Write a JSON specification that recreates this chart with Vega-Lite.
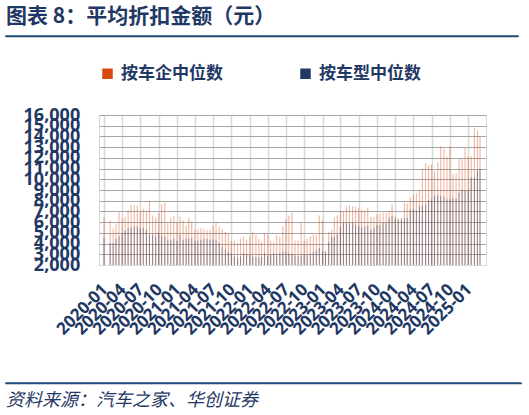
{
  "$schema": "https://vega.github.io/schema/vega-lite/v6.json",
  "background": "white",
  "padding": {"left": 5, "top": 5, "right": 5, "bottom": 0},
  "config": {"font": "Noto Sans CJK SC"},
  "spacing": 26,
  "resolve": {"scale": {"color": "independent"}, "legend": {"color": "independent"}},
  "datasets": {
    "discount": [
      {"d": "2020-01-01", "按车企中位数": 6470, "按车型中位数": 4520},
      {"d": "2020-02-01", "按车企中位数": 6180, "按车型中位数": 4050},
      {"d": "2020-02-16", "按车企中位数": 5400, "按车型中位数": 4050},
      {"d": "2020-03-01", "按车企中位数": 5840, "按车型中位数": 4420},
      {"d": "2020-03-16", "按车企中位数": 6940, "按车型中位数": 4670},
      {"d": "2020-04-01", "按车企中位数": 6340, "按车型中位数": 5000},
      {"d": "2020-04-16", "按车企中位数": 6500, "按车型中位数": 5240},
      {"d": "2020-05-01", "按车企中位数": 7130, "按车型中位数": 5460},
      {"d": "2020-05-16", "按车企中位数": 7600, "按车型中位数": 5520},
      {"d": "2020-06-01", "按车企中位数": 7600, "按车型中位数": 5620},
      {"d": "2020-06-16", "按车企中位数": 7570, "按车型中位数": 5620},
      {"d": "2020-07-01", "按车企中位数": 6940, "按车型中位数": 5460},
      {"d": "2020-07-16", "按车企中位数": 7250, "按车型中位数": 5460},
      {"d": "2020-08-01", "按车企中位数": 7030, "按车型中位数": 5300},
      {"d": "2020-08-16", "按车企中位数": 7980, "按车型中位数": 4830},
      {"d": "2020-09-01", "按车企中位数": 6620, "按车型中位数": 4830},
      {"d": "2020-09-16", "按车企中位数": 6400, "按车型中位数": 4670},
      {"d": "2020-10-01", "按车企中位数": 6870, "按车型中位数": 5000},
      {"d": "2020-10-16", "按车企中位数": 7660, "按车型中位数": 4740},
      {"d": "2020-11-01", "按车企中位数": 7820, "按车型中位数": 4670},
      {"d": "2020-11-16", "按车企中位数": 5930, "按车型中位数": 4360},
      {"d": "2020-12-01", "按车企中位数": 6400, "按车型中位数": 4360},
      {"d": "2020-12-16", "按车企中位数": 6560, "按车型中位数": 4420},
      {"d": "2021-01-01", "按车企中位数": 5930, "按车型中位数": 4260},
      {"d": "2021-01-16", "按车企中位数": 6500, "按车型中位数": 4830},
      {"d": "2021-02-01", "按车企中位数": 6180, "按车型中位数": 4360},
      {"d": "2021-02-16", "按车企中位数": 5680, "按车型中位数": 4450},
      {"d": "2021-03-01", "按车企中位数": 6400, "按车型中位数": 4500},
      {"d": "2021-03-16", "按车企中位数": 6090, "按车型中位数": 4500},
      {"d": "2021-04-01", "按车企中位数": 5330, "按车型中位数": 4260},
      {"d": "2021-04-16", "按车企中位数": 5300, "按车型中位数": 4260},
      {"d": "2021-05-01", "按车企中位数": 5460, "按车型中位数": 4360},
      {"d": "2021-05-16", "按车企中位数": 5365, "按车型中位数": 4420},
      {"d": "2021-06-01", "按车企中位数": 5210, "按车型中位数": 4420},
      {"d": "2021-06-16", "按车企中位数": 5300, "按车型中位数": 4360},
      {"d": "2021-07-01", "按车企中位数": 5620, "按车型中位数": 4360},
      {"d": "2021-07-16", "按车企中位数": 5990, "按车型中位数": 4300},
      {"d": "2021-08-01", "按车企中位数": 5620, "按车型中位数": 4045},
      {"d": "2021-08-16", "按车企中位数": 5365, "按车型中位数": 3670},
      {"d": "2021-09-01", "按车企中位数": 5080, "按车型中位数": 3415},
      {"d": "2021-09-16", "按车企中位数": 4925, "按车型中位数": 3260},
      {"d": "2021-10-01", "按车企中位数": 4260, "按车型中位数": 3100},
      {"d": "2021-10-16", "按车企中位数": 4260, "按车型中位数": 2790},
      {"d": "2021-11-01", "按车企中位数": 4045, "按车型中位数": 2690},
      {"d": "2021-11-16", "按车企中位数": 4450, "按车型中位数": 2790},
      {"d": "2021-12-01", "按车企中位数": 4670, "按车型中位数": 3100},
      {"d": "2021-12-16", "按车企中位数": 4360, "按车型中位数": 3000},
      {"d": "2022-01-01", "按车企中位数": 4670, "按车型中位数": 2940},
      {"d": "2022-01-16", "按车企中位数": 5080, "按车型中位数": 2790},
      {"d": "2022-02-01", "按车企中位数": 4830, "按车型中位数": 2690},
      {"d": "2022-02-16", "按车企中位数": 4450, "按车型中位数": 2690},
      {"d": "2022-03-01", "按车企中位数": 4140, "按车型中位数": 2790},
      {"d": "2022-03-16", "按车企中位数": 4990, "按车型中位数": 3100},
      {"d": "2022-04-01", "按车企中位数": 4830, "按车型中位数": 2880},
      {"d": "2022-04-16", "按车企中位数": 4260, "按车型中位数": 3000},
      {"d": "2022-05-01", "按车企中位数": 4140, "按车型中位数": 3100},
      {"d": "2022-05-16", "按车企中位数": 4770, "按车型中位数": 2940},
      {"d": "2022-06-01", "按车企中位数": 4670, "按车型中位数": 3100},
      {"d": "2022-06-16", "按车企中位数": 5620, "按车型中位数": 3260},
      {"d": "2022-07-01", "按车企中位数": 6250, "按车型中位数": 3260},
      {"d": "2022-07-16", "按车企中位数": 6620, "按车型中位数": 3100},
      {"d": "2022-08-01", "按车企中位数": 6870, "按车型中位数": 3000},
      {"d": "2022-08-16", "按车企中位数": 4280, "按车型中位数": 2880},
      {"d": "2022-09-01", "按车企中位数": 4265, "按车型中位数": 2790},
      {"d": "2022-09-16", "按车企中位数": 5930, "按车型中位数": 2880},
      {"d": "2022-10-01", "按车企中位数": 4250, "按车型中位数": 3000},
      {"d": "2022-10-16", "按车企中位数": 4420, "按车型中位数": 3000},
      {"d": "2022-11-01", "按车企中位数": 4680, "按车型中位数": 3100},
      {"d": "2022-11-16", "按车企中位数": 4830, "按车型中位数": 3260},
      {"d": "2022-12-01", "按车企中位数": 4790, "按车型中位数": 3400},
      {"d": "2022-12-16", "按车企中位数": 6620, "按车型中位数": 3570},
      {"d": "2023-01-01", "按车企中位数": 6200, "按车型中位数": 3320},
      {"d": "2023-01-16", "按车企中位数": 3300, "按车型中位数": 3200},
      {"d": "2023-02-01", "按车企中位数": 5100, "按车型中位数": 4140},
      {"d": "2023-02-16", "按车企中位数": 5300, "按车型中位数": 4670},
      {"d": "2023-03-01", "按车企中位数": 6400, "按车型中位数": 4580},
      {"d": "2023-03-16", "按车企中位数": 6650, "按车型中位数": 4830},
      {"d": "2023-04-01", "按车企中位数": 6970, "按车型中位数": 5550},
      {"d": "2023-04-16", "按车企中位数": 7050, "按车型中位数": 5930},
      {"d": "2023-05-01", "按车企中位数": 7450, "按车型中位数": 5930},
      {"d": "2023-05-16", "按车企中位数": 7570, "按车型中位数": 5930},
      {"d": "2023-06-01", "按车企中位数": 7500, "按车型中位数": 5930},
      {"d": "2023-06-16", "按车企中位数": 7440, "按车型中位数": 5720},
      {"d": "2023-07-01", "按车企中位数": 7340, "按车型中位数": 5620},
      {"d": "2023-07-16", "按车企中位数": 7190, "按车型中位数": 5530},
      {"d": "2023-08-01", "按车企中位数": 7090, "按车型中位数": 5560},
      {"d": "2023-08-16", "按车企中位数": 7340, "按车型中位数": 5720},
      {"d": "2023-09-01", "按车企中位数": 6470, "按车型中位数": 5300},
      {"d": "2023-09-16", "按车企中位数": 6470, "按车型中位数": 5400},
      {"d": "2023-10-01", "按车企中位数": 6730, "按车型中位数": 5720},
      {"d": "2023-10-16", "按车企中位数": 6780, "按车型中位数": 5720},
      {"d": "2023-11-01", "按车企中位数": 6880, "按车型中位数": 5930},
      {"d": "2023-11-16", "按车企中位数": 6880, "按车型中位数": 5930},
      {"d": "2023-12-01", "按车企中位数": 7040, "按车型中位数": 6400},
      {"d": "2023-12-16", "按车企中位数": 7660, "按车型中位数": 6570},
      {"d": "2024-01-01", "按车企中位数": 6570, "按车型中位数": 6340},
      {"d": "2024-01-16", "按车企中位数": 6340, "按车型中位数": 6250},
      {"d": "2024-02-01", "按车企中位数": 6400, "按车型中位数": 6250},
      {"d": "2024-02-16", "按车企中位数": 7820, "按车型中位数": 6340},
      {"d": "2024-03-01", "按车企中位数": 7730, "按车型中位数": 6400},
      {"d": "2024-03-16", "按车企中位数": 8360, "按车型中位数": 7190},
      {"d": "2024-04-01", "按车企中位数": 8550, "按车型中位数": 7190},
      {"d": "2024-04-16", "按车企中位数": 8700, "按车型中位数": 7040},
      {"d": "2024-05-01", "按车企中位数": 8980, "按车型中位数": 7510},
      {"d": "2024-05-16", "按车企中位数": 10960, "按车型中位数": 7600},
      {"d": "2024-06-01", "按车企中位数": 11500, "按车型中位数": 7660},
      {"d": "2024-06-16", "按车企中位数": 11280, "按车型中位数": 8040},
      {"d": "2024-07-01", "按车企中位数": 11380, "按车型中位数": 8130},
      {"d": "2024-07-16", "按车企中位数": 10750, "按车型中位数": 8450},
      {"d": "2024-08-01", "按车企中位数": 11590, "按车型中位数": 8500},
      {"d": "2024-08-16", "按车企中位数": 13080, "按车型中位数": 8450},
      {"d": "2024-09-01", "按车企中位数": 12850, "按车型中位数": 8360},
      {"d": "2024-09-16", "按车企中位数": 12130, "按车型中位数": 8130},
      {"d": "2024-10-01", "按车企中位数": 13080, "按车型中位数": 8130},
      {"d": "2024-10-16", "按车企中位数": 10490, "按车型中位数": 8230},
      {"d": "2024-11-01", "按车企中位数": 10560, "按车型中位数": 8230},
      {"d": "2024-11-16", "按车企中位数": 11910, "按车型中位数": 8760},
      {"d": "2024-12-01", "按车企中位数": 11970, "按车型中位数": 8980},
      {"d": "2024-12-16", "按车企中位数": 12950, "按车型中位数": 8980},
      {"d": "2025-01-01", "按车企中位数": 12130, "按车型中位数": 9000},
      {"d": "2025-01-16", "按车企中位数": 12130, "按车型中位数": 10180},
      {"d": "2025-02-01", "按车企中位数": 14800, "按车型中位数": 10180},
      {"d": "2025-02-16", "按车企中位数": 14520, "按车型中位数": 10800},
      {"d": "2025-03-01", "按车企中位数": 14020, "按车型中位数": 10960}
    ]
  },
  "vconcat": [
    {
      "width": 512,
      "height": 0.5,
      "data": {"values": []},
      "mark": "point",
      "view": {"stroke": "#1f497d", "strokeWidth": 1.5},
      "title": {"text": "图表 8：平均折扣金额（元）", "anchor": "start", "font": "Noto Sans CJK SC", "fontSize": 21, "fontWeight": "bold", "color": "#1f3864", "offset": 9}
    },
    {
      "spacing": 0,
      "bounds": "flush",
      "resolve": {"scale": {"y": "independent", "color": "independent"}, "axis": {"y": "independent"}, "legend": {"color": "independent"}},
      "hconcat": [
        {
          "width": 92.7,
          "height": 150,
          "view": {"stroke": null},
          "data": {"name": "discount"},
          "transform": [{"fold": ["按车企中位数", "按车型中位数"], "as": ["series", "value"]}],
          "mark": {"type": "point", "opacity": 0},
          "encoding": {
            "y": {
              "field": "value",
              "type": "quantitative",
              "scale": {"domain": [2000, 16000], "zero": false, "nice": false},
              "axis": {
                "title": null,
                "offset": -92.7,
                "values": [2000, 3000, 4000, 5000, 6000, 7000, 8000, 9000, 10000, 11000, 12000, 13000, 14000, 15000, 16000],
                "labelExpr": "floor(datum.value / 1000) + ',000'",
                "labelFont": "Noto Sans",
                "labelFontSize": 18,
                "labelFontWeight": "bold",
                "labelColor": "#1f3864",
                "labelOverlap": false,
                "labelPadding": 19,
                "grid": false,
                "ticks": false,
                "domain": false
              }
            }
          }
        },
        {
          "width": 387,
          "height": 150,
          "view": {"stroke": "#d9d9d9"},
          "data": {"name": "discount"},
          "transform": [{"fold": ["按车企中位数", "按车型中位数"], "as": ["series", "value"]}],
          "mark": {"type": "bar", "width": 1.1, "opacity": 0.4},
          "encoding": {
            "x": {
              "field": "d",
              "type": "temporal",
              "scale": {
                "type": "utc",
                "domain": [
                  {"year": 2020, "month": 1, "date": 1, "utc": true},
                  {"year": 2025, "month": 3, "date": 6, "utc": true}
                ]
              },
              "axis": {
                "title": " ",
                "titleFontSize": 10,
                "titlePadding": 8,
                "tickCount": {"interval": "month", "step": 3},
                "labelExpr": "utcyear(datum.value) + '-' + (utcmonth(datum.value) < 9 ? '0' : '') + (utcmonth(datum.value) + 1)",
                "labelAngle": -45,
                "labelFont": "Noto Sans",
                "labelFontSize": 17,
                "labelFontWeight": "bold",
                "labelColor": "#1f3864",
                "labelOverlap": false,
                "labelFlush": false,
                "labelPadding": 16,
                "labelOffset": -5,
                "ticks": false,
                "domainColor": "#d9d9d9",
                "gridColor": "#d9d9d9",
                "gridWidth": 1.5
              }
            },
            "y": {
              "field": "value",
              "type": "quantitative",
              "scale": {"domain": [2000, 16000], "zero": false, "nice": false},
              "axis": {
                "title": null,
                "values": [2000, 3000, 4000, 5000, 6000, 7000, 8000, 9000, 10000, 11000, 12000, 13000, 14000, 15000, 16000],
                "labels": false,
                "ticks": false,
                "domain": false,
                "gridColor": "#a6a6a6",
                "gridWidth": 1
              }
            },
            "y2": {"datum": 2000},
            "color": {
              "field": "series",
              "type": "nominal",
              "scale": {"domain": ["按车企中位数", "按车型中位数"], "range": ["#d9480f", "#1f3864"]},
              "legend": {
                "title": null,
                "orient": "top",
                "direction": "horizontal",
                "symbolType": "square",
                "symbolSize": 110,
                "symbolOpacity": 1,
                "symbolStrokeWidth": 0,
                "labelFont": "Noto Sans CJK SC",
                "labelFontSize": 17,
                "labelFontWeight": "bold",
                "labelColor": "#1f3864",
                "labelLimit": 300,
                "labelOffset": 5,
                "columnPadding": 74,
                "offset": 33,
                "padding": 0
              }
            }
          }
        }
      ]
    },
    {
      "width": 515,
      "height": 0.5,
      "data": {"values": []},
      "mark": "point",
      "view": {"stroke": "#1f497d", "strokeWidth": 1.5},
      "title": {"text": "资料来源：汽车之家、华创证券", "orient": "bottom", "anchor": "start", "font": "Noto Sans CJK SC", "fontSize": 18, "fontStyle": "italic", "fontWeight": "normal", "color": "#1f3864", "offset": 8}
    }
  ]
}
